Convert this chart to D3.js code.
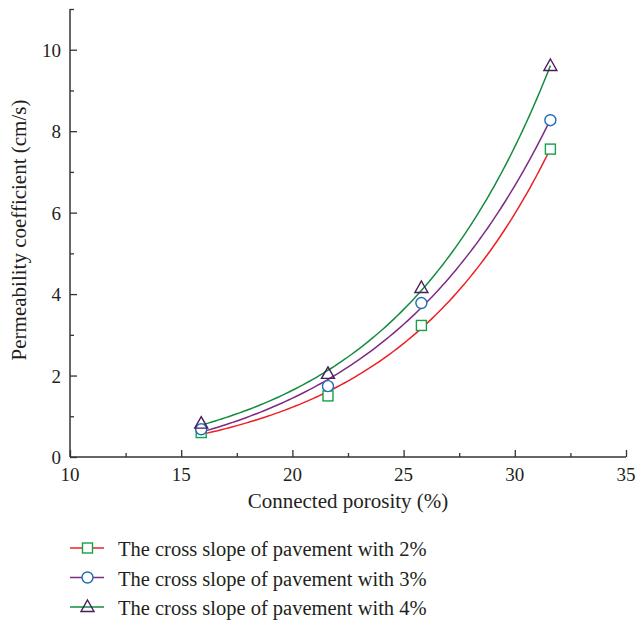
<!DOCTYPE html>
<html>
  <head>
    <meta charset="UTF-8">
    <title>Permeability coefficient vs connected porosity</title>
    <script src="https://d3js.org/d3.v7.min.js"></script>
    <style>
      body { margin: 0; background: #fff; }
      svg text { font-family: "Liberation Serif", "DejaVu Serif", serif; fill: #231f20; }
    </style>
  </head>
  <body>
    <svg id="chart" width="638" height="620"></svg>
    <script>
      // connected porosity (%)
      const porosity = [15.9, 21.6, 25.8, 31.6];
      // permeability coefficient (cm/s) per cross slope
      const slope2 = [0.60, 1.50, 3.23, 7.56];
      const slope3 = [0.68, 1.74, 3.78, 8.27];
      const slope4 = [0.82, 2.04, 4.15, 9.60];
      const seriesNames = [
        'The cross slope of pavement with 2%',
        'The cross slope of pavement with 3%',
        'The cross slope of pavement with 4%'
      ];
      const xTicks = [10, 15, 20, 25, 30, 35];
      const yTicks = [0, 2, 4, 6, 8, 10];

      const series = [
        { name: seriesNames[0], values: slope2, line: '#ec2024', marker: 'square', mColor: '#16a04a' },
        { name: seriesNames[1], values: slope3, line: '#7d2b86', marker: 'circle', mColor: '#1f6db3' },
        { name: seriesNames[2], values: slope4, line: '#138c42', marker: 'triangle', mColor: '#4b1b5c' }
      ];

      const svg = d3.select('#chart');
      const x = d3.scaleLinear().domain([10, 35]).range([70, 626]);
      const y = d3.scaleLinear().domain([0, 11]).range([457, 9]);
      const axisColor = '#333';

      // exponential growth trend y = y0 + A*exp(b*x), least squares over b
      function expFit(xs, ys) {
        let best = null;
        for (let b = 0.01; b < 0.6; b += 0.0005) {
          const e = xs.map(v => Math.exp(b * v));
          const me = d3.mean(e), my = d3.mean(ys);
          const A = d3.sum(e, (v, i) => (v - me) * (ys[i] - my)) / d3.sum(e, v => (v - me) ** 2);
          const y0 = my - A * me;
          const err = d3.sum(e, (v, i) => (y0 + A * v - ys[i]) ** 2);
          if (!best || err < best.err) best = { err, A, y0, b };
        }
        return v => best.y0 + best.A * Math.exp(best.b * v);
      }

      const line = d3.line().x(d => x(d[0])).y(d => y(d[1]));
      const [x0, x1] = d3.extent(porosity);
      series.forEach(s => {
        const f = expFit(porosity, s.values);
        const pts = d3.range(0, 101).map(i => {
          const v = x0 + (x1 - x0) * i / 100;
          return [v, f(v)];
        });
        svg.append('path')
          .attr('d', line(pts))
          .attr('fill', 'none')
          .attr('stroke', s.line)
          .attr('stroke-width', 1.5);
      });

      function drawMarker(g, type, color, cx, cy) {
        if (type === 'square') {
          g.append('rect').attr('x', cx - 5).attr('y', cy - 5).attr('width', 10).attr('height', 10)
            .attr('fill', '#fff').attr('stroke', color).attr('stroke-width', 1.4);
        } else if (type === 'circle') {
          g.append('circle').attr('cx', cx).attr('cy', cy).attr('r', 5.5)
            .attr('fill', '#fff').attr('stroke', color).attr('stroke-width', 1.4);
        } else {
          g.append('path')
            .attr('d', `M${cx},${cy - 7}L${cx + 6.5},${cy + 4.5}L${cx - 6.5},${cy + 4.5}Z`)
            .attr('fill', 'none').attr('stroke', color).attr('stroke-width', 1.4);
        }
      }

      series.forEach(s => {
        const g = svg.append('g');
        porosity.forEach((p, i) => drawMarker(g, s.marker, s.mColor, x(p), y(s.values[i])));
      });

      // axes with inward ticks
      const xAxis = svg.append('g').attr('transform', 'translate(0,457)')
        .call(d3.axisTop(x).tickValues(d3.range(10, 35.1, 2.5)).tickSize(7).tickFormat(''));
      xAxis.selectAll('.tick line').attr('y2', d => d % 5 === 0 ? -7 : -4);
      const yAxis = svg.append('g').attr('transform', 'translate(70,0)')
        .call(d3.axisRight(y).tickValues(d3.range(0, 11.1, 1)).tickSize(7).tickFormat(''));
      yAxis.selectAll('.tick line').attr('x2', d => d % 2 === 0 ? 7 : 4);
      svg.selectAll('.domain').attr('stroke', axisColor).attr('stroke-width', 1.5);
      svg.selectAll('.tick line').attr('stroke', axisColor).attr('stroke-width', 1.3);
      xAxis.select('.domain').attr('d', 'M70,0H626');
      yAxis.select('.domain').attr('d', 'M0,457V9');

      svg.append('g').selectAll('text').data(xTicks).join('text')
        .attr('x', d => x(d)).attr('y', 481)
        .attr('text-anchor', 'middle').attr('font-size', 19).text(d => d);
      svg.append('g').selectAll('text').data(yTicks).join('text')
        .attr('x', 61).attr('y', d => y(d) + 7)
        .attr('text-anchor', 'end').attr('font-size', 19).text(d => d);

      svg.append('text').attr('x', 348).attr('y', 508).attr('text-anchor', 'middle')
        .attr('font-size', 21).text('Connected porosity (%)');
      svg.append('text').attr('transform', 'translate(26,230) rotate(-90)')
        .attr('text-anchor', 'middle').attr('font-size', 21).text('Permeability coefficient (cm/s)');

      // legend
      const legend = svg.append('g');
      series.forEach((s, i) => {
        const cy = 548 + i * 29.5;
        legend.append('line').attr('x1', 70).attr('x2', 104).attr('y1', cy).attr('y2', cy)
          .attr('stroke', s.line).attr('stroke-width', 1.5);
        drawMarker(legend, s.marker, s.mColor, 87.5, cy);
        legend.append('text').attr('x', 118).attr('y', cy + 8).attr('font-size', 20.5).text(s.name);
      });
    </script>
  </body>
</html>
